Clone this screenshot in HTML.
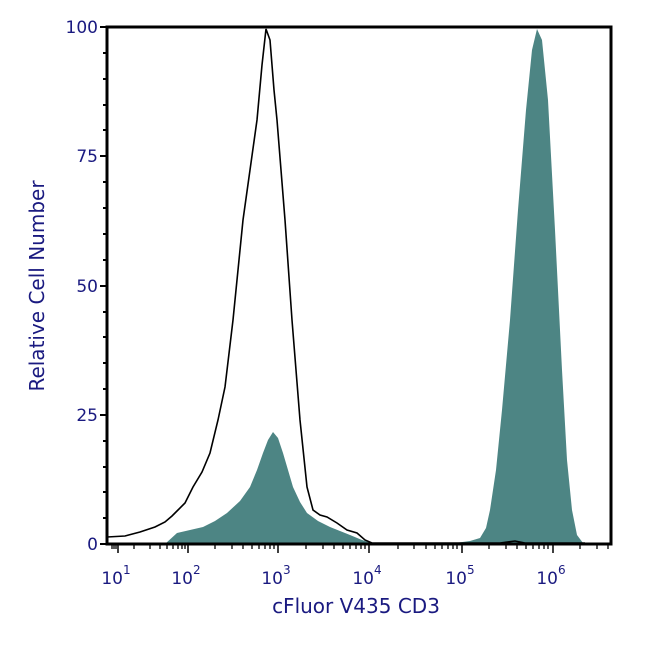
<!DOCTYPE html><html><head><style>body{margin:0;background:#fff}svg text{font-family:"DejaVu Sans","Liberation Sans",sans-serif;fill:#1a1a80}</style></head><body>
<svg width="650" height="650" viewBox="0 0 650 650" xmlns="http://www.w3.org/2000/svg">
<path d="M165,544 L177,533 L190,530 L203,527 L215,521 L227,513 L240,501 L250,487 L257,470 L263,453 L268,440 L273,432 L278,438 L283,453 L288,470 L293,487 L300,502 L307,513 L318,521 L330,527 L340,531 L350,535 L362,540 L372,543 Z" fill="#4d8584"/>
<path d="M455,543 L470,541 L480,538 L486,528 L490,510 L496,470 L502,410 L510,320 L518,210 L526,110 L532,50 L537,29 L542,40 L548,100 L555,230 L562,370 L567,460 L572,510 L577,535 L583,543 Z" fill="#4d8584"/>
<path d="M107,537 L125,536 L140,532 L155,527 L165,522 L172,516 L178,510 L185,503 L193,487 L202,472 L210,453 L218,420 L225,387 L233,320 L243,220 L250,170 L257,120 L262,65 L266,29 L270,40 L274,90 L277,120 L285,220 L292,320 L300,420 L307,487 L313,510 L320,515 L327,517 L337,523 L347,530 L357,533 L365,540 L372,543 L440,543 L500,543 L515,541 L525,543 L585,543" fill="none" stroke="#000" stroke-width="1.6"/>
<rect x="107" y="27" width="504" height="517" fill="none" stroke="#000" stroke-width="3"/>
<g stroke="#000" stroke-width="2">
<line x1="100" y1="27" x2="107" y2="27"/><line x1="100" y1="156" x2="107" y2="156"/><line x1="100" y1="286" x2="107" y2="286"/><line x1="100" y1="415" x2="107" y2="415"/><line x1="100" y1="544" x2="107" y2="544"/>
<line x1="103" y1="53" x2="107" y2="53"/><line x1="103" y1="79" x2="107" y2="79"/><line x1="103" y1="105" x2="107" y2="105"/><line x1="103" y1="130" x2="107" y2="130"/>
<line x1="103" y1="182" x2="107" y2="182"/><line x1="103" y1="208" x2="107" y2="208"/><line x1="103" y1="234" x2="107" y2="234"/><line x1="103" y1="260" x2="107" y2="260"/>
<line x1="103" y1="312" x2="107" y2="312"/><line x1="103" y1="337" x2="107" y2="337"/><line x1="103" y1="363" x2="107" y2="363"/><line x1="103" y1="389" x2="107" y2="389"/>
<line x1="103" y1="441" x2="107" y2="441"/><line x1="103" y1="467" x2="107" y2="467"/><line x1="103" y1="492" x2="107" y2="492"/><line x1="103" y1="518" x2="107" y2="518"/>
</g>
<g stroke="#000" stroke-width="1.5">
<line x1="118" y1="544" x2="118" y2="553"/><line x1="188" y1="544" x2="188" y2="553"/><line x1="278" y1="544" x2="278" y2="553"/><line x1="369" y1="544" x2="369" y2="553"/><line x1="462" y1="544" x2="462" y2="553"/><line x1="553" y1="544" x2="553" y2="553"/>
</g>
<g stroke="#000" stroke-width="1.3">
<path d="M112,544v5M114,544v5M116,544v5M134,544v5M150,544v5M160,544v5M167,544v5M173,544v5M178,544v5M182,544v5M185,544v5"/>
<path d="M215,544v5M232,544v5M243,544v5M252,544v5M259,544v5M265,544v5M270,544v5M274,544v5"/>
<path d="M306,544v5M323,544v5M334,544v5M343,544v5M350,544v5M356,544v5M361,544v5M365,544v5"/>
<path d="M398,544v5M414,544v5M426,544v5M435,544v5M442,544v5M448,544v5M453,544v5M457,544v5"/>
<path d="M489,544v5M506,544v5M517,544v5M526,544v5M533,544v5M539,544v5M544,544v5M548,544v5"/>
<path d="M580,544v5M597,544v5M608,544v5"/>
</g>
<g font-size="17" text-anchor="end">
<text x="98" y="33">100</text><text x="98" y="162">75</text><text x="98" y="292">50</text><text x="98" y="421">25</text><text x="98" y="550">0</text>
</g>
<g font-size="17" text-anchor="middle">
<text x="116" y="584">10<tspan font-size="12" dy="-10">1</tspan></text>
<text x="186" y="584">10<tspan font-size="12" dy="-10">2</tspan></text>
<text x="276" y="584">10<tspan font-size="12" dy="-10">3</tspan></text>
<text x="367" y="584">10<tspan font-size="12" dy="-10">4</tspan></text>
<text x="460" y="584">10<tspan font-size="12" dy="-10">5</tspan></text>
<text x="551" y="584">10<tspan font-size="12" dy="-10">6</tspan></text>
</g>
<text x="356" y="613" font-size="20" text-anchor="middle">cFluor V435 CD3</text>
<text transform="translate(44,286) rotate(-90)" font-size="20" text-anchor="middle">Relative Cell Number</text>
</svg></body></html>
